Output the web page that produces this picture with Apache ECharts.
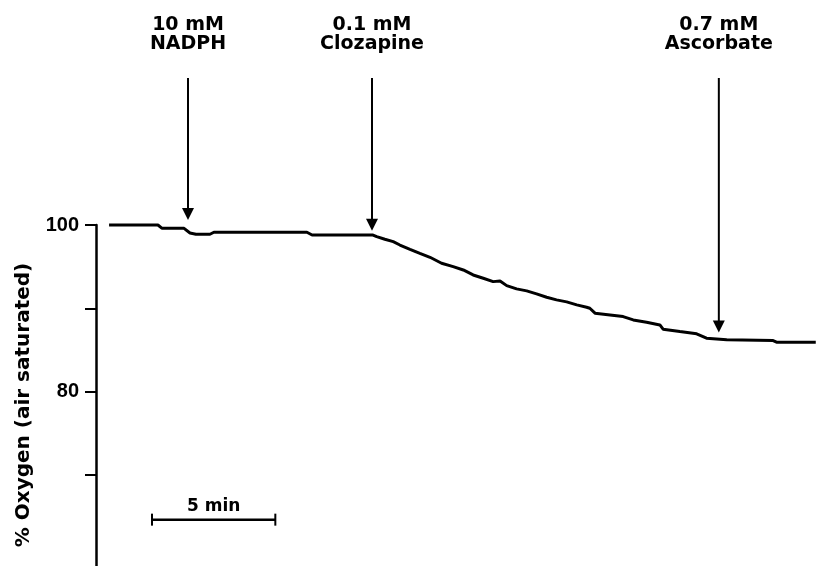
<!DOCTYPE html>
<html>
<head>
<meta charset="utf-8">
<script src="https://cdn.jsdelivr.net/npm/echarts@6/dist/echarts.min.js"></script>
<style>
html,body{margin:0;padding:0;background:#fff;}
#chart{width:816px;height:566px;}
</style>
</head>
<body>
<div id="chart"></div>
<script>
// Time (min) and % oxygen trace
var traceTime = [0.53, 2.51, 2.68, 3.57, 3.81, 4.05, 4.62, 4.78, 8.55, 8.76, 11.23, 11.38, 11.71, 12.05, 12.32, 12.73, 13.13, 13.54, 14.01, 14.48, 14.89, 15.29, 15.70, 16.10, 16.38, 16.65, 17.05, 17.46, 17.86, 18.27, 18.67, 19.08, 19.49, 19.89, 20.02, 20.23, 20.84, 21.37, 21.78, 22.32, 22.86, 22.99, 23.67, 24.35, 24.75, 25.57, 27.45, 27.59, 29.18];
var traceOxygen = [100.0, 100.0, 99.60, 99.60, 99.04, 98.89, 98.89, 99.13, 99.13, 98.80, 98.80, 98.60, 98.29, 98.00, 97.60, 97.09, 96.61, 96.13, 95.41, 95.01, 94.61, 94.01, 93.62, 93.21, 93.29, 92.73, 92.34, 92.10, 91.74, 91.34, 91.02, 90.78, 90.42, 90.14, 90.02, 89.43, 89.22, 89.02, 88.62, 88.35, 88.02, 87.51, 87.22, 86.95, 86.43, 86.23, 86.14, 85.95, 85.95];

// Additions (arrows)
var additionTimes = [3.73, 11.19, 25.25];
var arrowTipOxygen = [100.6, 99.3, 87.1];
var additionDose = ['10 mM', '0.1 mM', '0.7 mM'];
var additionAgent = ['NADPH', 'Clozapine', 'Ascorbate'];

// Scale bar
var scaleBarStart = 2.27;
var scaleBarEnd = 7.27;
var scaleBarLevel = 64.67;
var scaleBarLabel = '5 min';

// Y axis
var yTicks = [70, 80, 90, 100];
var yLabels = [80, 100];
var yTitle = '% Oxygen (air saturated)';

var FONT = '"Liberation Sans", Arial, Helvetica, sans-serif';
var WFONT = '"DejaVu Sans", Verdana, sans-serif';

var traceData = traceTime.map(function (t, i) { return [t, traceOxygen[i]]; });
var arrowData = additionTimes.map(function (t, i) { return [t, arrowTipOxygen[i], i]; });

var chart = echarts.init(document.getElementById('chart'), null, {renderer: 'canvas'});

chart.setOption({
  animation: false,
  backgroundColor: '#fff',
  grid: {left: 96, top: 225, width: 740, height: 417, containLabel: false, outerBoundsMode: 'none'},
  xAxis: {type: 'value', min: 0, max: 30, show: false},
  yAxis: {
    type: 'value', min: 50, max: 100,
    axisLine: {show: true, lineStyle: {color: '#000', width: 2.5}},
    axisTick: {show: true, customValues: yTicks, length: 11, lineStyle: {color: '#000', width: 2}},
    axisLabel: {customValues: yLabels, margin: 17, color: '#000', fontFamily: FONT, fontWeight: 'bold', fontSize: 20},
    splitLine: {show: false}
  },
  graphic: [{
    type: 'text', x: 24, y: 405, rotation: Math.PI / 2,
    style: {text: yTitle, font: 'bold 20px ' + WFONT, fill: '#000', textAlign: 'center', textVerticalAlign: 'middle'}
  }],
  series: [
    {
      type: 'line', data: traceData, showSymbol: false, symbol: 'none', clip: false,
      lineStyle: {color: '#000', width: 3}
    },
    {
      type: 'custom', clip: false, data: arrowData,
      renderItem: function (params, api) {
        var idx = api.value(2);
        var p = api.coord([api.value(0), api.value(1)]);
        var x = p[0], tip = p[1];
        var top = 78, head = 12, half = 6;
        return {
          type: 'group',
          children: [
            {type: 'line', shape: {x1: x, y1: top, x2: x, y2: tip - head + 1}, style: {stroke: '#000', lineWidth: 2}},
            {type: 'polygon', shape: {points: [[x - half, tip - head], [x + half, tip - head], [x, tip]]}, style: {fill: '#000'}},
            {type: 'text', style: {text: additionDose[idx], x: x, y: 25, font: 'bold 19px ' + WFONT, fill: '#000', textAlign: 'center', textVerticalAlign: 'middle'}},
            {type: 'text', style: {text: additionAgent[idx], x: x, y: 44, font: 'bold 19px ' + WFONT, fill: '#000', textAlign: 'center', textVerticalAlign: 'middle'}}
          ]
        };
      }
    },
    {
      type: 'custom', clip: false, data: [[scaleBarStart, scaleBarEnd, scaleBarLevel]],
      renderItem: function (params, api) {
        var a = api.coord([api.value(0), api.value(2)]);
        var b = api.coord([api.value(1), api.value(2)]);
        var y = a[1];
        return {
          type: 'group',
          children: [
            {type: 'line', shape: {x1: a[0], y1: y, x2: b[0], y2: y}, style: {stroke: '#000', lineWidth: 2.5}},
            {type: 'line', shape: {x1: a[0], y1: y - 6, x2: a[0], y2: y + 6}, style: {stroke: '#000', lineWidth: 2}},
            {type: 'line', shape: {x1: b[0], y1: y - 6, x2: b[0], y2: y + 6}, style: {stroke: '#000', lineWidth: 2}},
            {type: 'text', style: {text: scaleBarLabel, x: (a[0] + b[0]) / 2, y: y - 5, font: 'bold 17px ' + WFONT, fill: '#000', textAlign: 'center', textVerticalAlign: 'bottom'}}
          ]
        };
      }
    }
  ]
});
</script>
</body>
</html>
